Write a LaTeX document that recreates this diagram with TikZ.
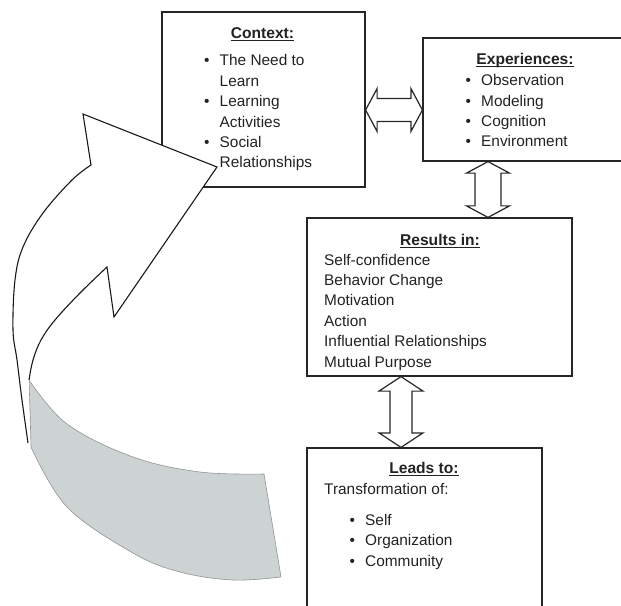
\documentclass[tikz,border=0pt]{standalone}
\usepackage{fontspec}
\setmainfont{Liberation Sans}
\usetikzlibrary{calc}
\definecolor{ribbongray}{HTML}{CDD2D2}
\definecolor{inkgray}{HTML}{222222}
\newcommand\blt{\makebox[15.5bp][l]{\textbullet}}
\newcommand\indt{\makebox[15.5bp]{}}
\newcommand\myul[1]{\setbox0\hbox{#1}\rlap{\rule[-2.4bp]{\wd0}{0.9bp}}\box0}
\tikzset{
  box/.style={draw=black!85, line width=1.2bp, rectangle, inner sep=0pt},
  txt/.style={anchor=base west, inner sep=0pt, align=left, text=inkgray,
    font=\fontsize{15.4bp}{20.4bp}\selectfont},
  headtxt/.style={anchor=base, inner sep=0pt, text=inkgray,
    font=\fontsize{15.6bp}{20bp}\selectfont\bfseries},
  dbl/.style={draw=black!85, line width=1.2bp, fill=white, line join=miter},
  front/.style={draw=black!90, line width=1.1bp, line join=miter},
  back/.style={fill=ribbongray, draw=gray!85, line width=0.6bp},
}
\begin{document}
\begin{tikzpicture}[x=1bp,y=-1bp]
\useasboundingbox (0,0) rectangle (621,606);
\clip (0,0) rectangle (621,606);

% boxes
\node[box, minimum width=203bp, minimum height=175bp] (ctx) at (263.5,99.5) {};
\node[box, minimum width=227bp, minimum height=123bp] (exp) at (536.5,99.5) {};
\node[box, minimum width=265bp, minimum height=158bp] (res) at (439.5,297) {};
\node[box, minimum width=235bp, minimum height=192bp] (lead) at (424.5,544) {};

% texts (multi-line nodes: base = baseline of last line)
\node[headtxt] (ctxh) at (262.5,39) {\myul{Context:}};
\node[txt] (ctxl) at (204,168) {\blt The Need to\\\indt Learn\\\blt Learning\\\indt Activities\\\blt Social\\\indt Relationships};
\node[headtxt] (exph) at (525,65) {\myul{Experiences:}};
\node[txt] (expl) at (465.5,147) {\blt Observation\\\blt Modeling\\\blt Cognition\\\blt Environment};
\node[headtxt] (resh) at (440,245) {\myul{Results in:}};
\node[txt] (resl) at (324,367) {Self-confidence\\Behavior Change\\Motivation\\Action\\Influential Relationships\\Mutual Purpose};
\node[headtxt] (leadh) at (424,473) {\myul{Leads to:}};
\node[txt] (leadt) at (324,494) {Transformation of:};
\node[txt] (leadl) at (349.5,566) {\blt Self\\\blt Organization\\\blt Community};

% double arrows
\coordinate (h1) at ([yshift=-10.5bp]ctx.east);
\coordinate (h2) at ([yshift=-10.5bp]exp.west);
\draw[dbl] (h1) -- ++(11.5,-21.5) -- ++(0,10) -- ($(h2)+(-11.5,-11.5)$) -- ++(0,-10) -- (h2)
  -- ++(-11.5,21.5) -- ++(0,-10) -- ($(h1)+(11.5,11.5)$) -- ++(0,10) -- cycle;

\coordinate (v1) at ([xshift=-48.5bp]exp.south);
\coordinate (v2) at ([xshift=48.5bp]res.north);
\draw[dbl] (v1) -- ++(21.5,11.5) -- ++(-8.5,0) -- ($(v2)+(13,-11.5)$) -- ++(8.5,0) -- (v2)
  -- ++(-21.5,-11.5) -- ++(8.5,0) -- ($(v1)+(-13,11.5)$) -- ++(-8.5,0) -- cycle;

\coordinate (w1) at ([xshift=-38.5bp]res.south);
\coordinate (w2) at ([xshift=-23.5bp]lead.north);
\draw[dbl] (w1) -- ++(22,14.5) -- ++(-11,0) -- ($(w2)+(11,-14.5)$) -- ++(11,0) -- (w2)
  -- ++(-22,-14.5) -- ++(11,0) -- ($(w1)+(-11,14.5)$) -- ++(-11,0) -- cycle;

% big curved ribbon arrow
\path[back] plot[smooth, tension=0.6] coordinates {(29,380) (67,424) (133,457) (200,472) (264,474)}
  -- (281,577)
  -- plot[smooth, tension=0.6] coordinates {(281,577) (233,580) (180,572) (133,553) (67,507) (31,447)}
  -- plot[smooth, tension=0.6] coordinates {(31,447) (30,410) (29,380)} -- cycle;

\fill[white] (217,167) -- (83,114) -- (91,165)
  -- plot[smooth, tension=0.6] coordinates {(91,165) (72,180) (43,213) (23,247) (15,280) (13,330) (17,360) (22,400) (28,443)}
  -- (29,380)
  -- plot[smooth, tension=0.6] coordinates {(29,380) (33,360) (41,340) (55,320) (80,293) (107,267)}
  -- (114,317) -- cycle;

\draw[front] plot[smooth, tension=0.6] coordinates {(29,380) (33,360) (41,340) (55,320) (80,293) (107,267)}
  -- (114,317) -- (217,167) -- (83,114) -- (91,165)
  -- plot[smooth, tension=0.6] coordinates {(91,165) (72,180) (43,213) (23,247) (15,280) (13,330) (17,360) (22,400) (28,443)};
\end{tikzpicture}
\end{document}
